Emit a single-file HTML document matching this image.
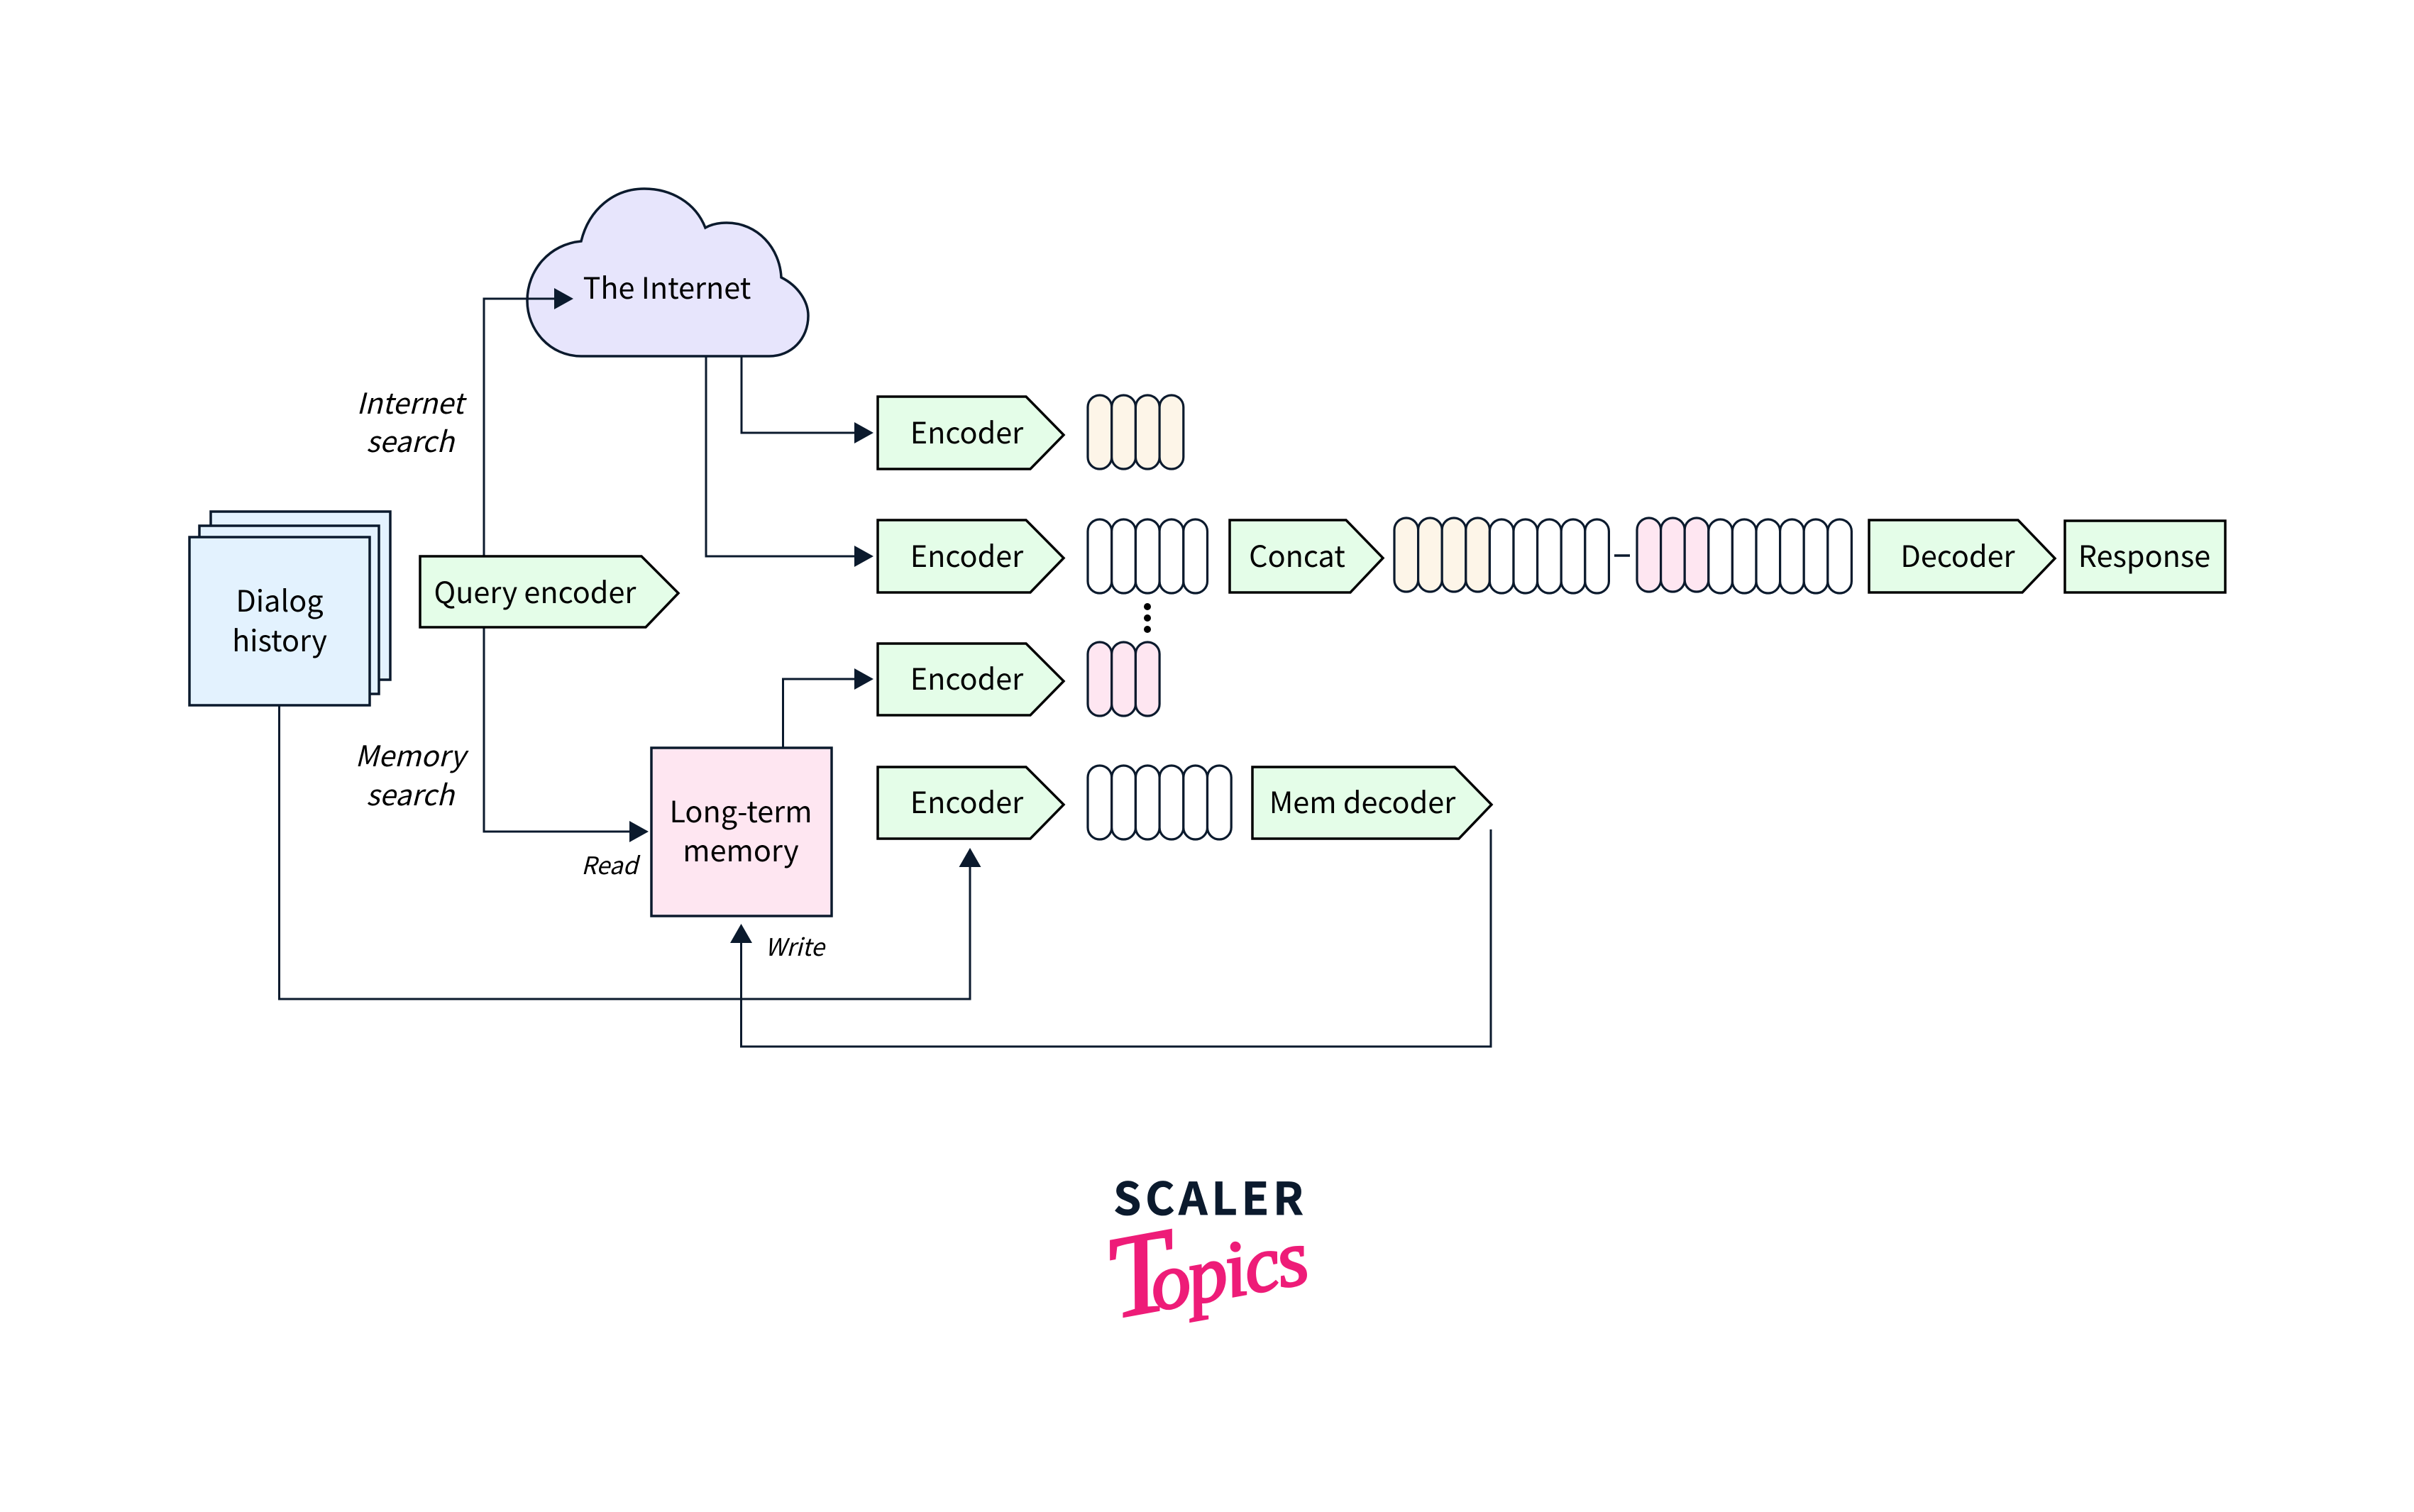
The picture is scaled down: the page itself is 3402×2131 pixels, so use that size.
<!DOCTYPE html>
<html><head><meta charset="utf-8"><style>
html,body{margin:0;padding:0;background:#fff;width:3402px;height:2131px;overflow:hidden}
svg{display:block}
text{font-family:"Noto Sans CJK JP","Liberation Sans",sans-serif;font-size:41.4px;fill:#000;text-anchor:middle}
.i{font-style:italic;font-size:40.5px}
.s{font-size:34px;font-style:italic}
.b{stroke:#000;stroke-width:3.5;fill:#e4fde8}
.l{fill:none;stroke:#0b1a2d;stroke-width:3}
.a{fill:#0b1a2d;stroke:none}
.n{stroke:#0b1a2d;stroke-width:3.5}
.p rect{stroke:#0b1a2d;stroke-width:3.2;fill:#fff}
.c rect{fill:#fdf5e8}
.k rect{fill:#fee6f1}
</style></head><body>
<svg width="3402" height="2131" viewBox="0 0 3402 2131" xmlns="http://www.w3.org/2000/svg">
<rect width="3402" height="2131" fill="#fff"/>

<!-- dialog stack -->
<rect class="n" x="297" y="721" width="253" height="237" fill="#e3f2fe"/>
<rect class="n" x="281" y="741" width="253" height="237" fill="#e3f2fe"/>
<rect class="n" x="267" y="757" width="254" height="237" fill="#e3f2fe"/>

<!-- cloud -->
<path class="n" fill="#e7e5fc" d="M819 502C775 502 743 465 743 424C743 380 775 344 819 340C830 295 865 266 908 266C945 266 980 285 994 321C1003 316 1014 314 1024 314C1068 314 1099 350 1101 391C1125 403 1139 425 1139 445C1139 478 1115 502 1084 502Z"/>

<!-- connectors -->
<path class="l" d="M682 784V421H785"/>
<path class="a" d="M781 406L808 421L781 436Z"/>
<path class="l" d="M995 502V784H1208"/>
<path class="a" d="M1204 769L1231 784L1204 799Z"/>
<path class="l" d="M1045 502V610H1208"/>
<path class="a" d="M1204 595L1231 610L1204 625Z"/>
<path class="l" d="M1103.5 1053V957H1208"/>
<path class="a" d="M1204 942L1231 957L1204 972Z"/>
<path class="l" d="M682 884V1172H890"/>
<path class="a" d="M887 1157L914 1172L887 1187Z"/>
<path class="l" d="M393.5 994V1408H1367V1218"/>
<path class="a" d="M1367 1195L1382.5 1222L1351.5 1222Z"/>
<path class="l" d="M2101 1169V1475H1044.5V1325"/>
<path class="a" d="M1044.5 1302L1060 1329L1029 1329Z"/>

<!-- long-term memory -->
<rect class="n" x="918" y="1054" width="254" height="237" fill="#fee6f1"/>

<!-- boxes -->
<path class="b" d="M592 784H904L956 836L910 884H592Z"/>
<path class="b" d="M1237 559H1446L1499 613L1452 661H1237Z"/>
<path class="b" d="M1237 733H1446L1499 786.5L1452 835H1237Z"/>
<path class="b" d="M1237 907H1446L1499 960L1452 1008H1237Z"/>
<path class="b" d="M1237 1081H1446L1499 1134L1452 1182H1237Z"/>
<path class="b" d="M1733 733H1897L1949 786.5L1903 835H1733Z"/>
<path class="b" d="M1765 1081H2050L2102 1134L2056 1182H1765Z"/>
<path class="b" d="M2634 733H2844L2896 787L2850 835H2634Z"/>
<rect class="b" x="2910" y="734" width="226" height="101"/>

<!-- pill rows -->
<g class="p c">
<rect x="1533" y="557" width="33.7" height="104" rx="16.8"/><rect x="1566.7" y="557" width="33.7" height="104" rx="16.8"/><rect x="1600.4" y="557" width="33.7" height="104" rx="16.8"/><rect x="1634.1" y="557" width="33.7" height="104" rx="16.8"/>
</g>
<g class="p">
<rect x="1533" y="732" width="33.7" height="104" rx="16.8"/><rect x="1566.7" y="732" width="33.7" height="104" rx="16.8"/><rect x="1600.4" y="732" width="33.7" height="104" rx="16.8"/><rect x="1634.1" y="732" width="33.7" height="104" rx="16.8"/><rect x="1667.8" y="732" width="33.7" height="104" rx="16.8"/>
</g>
<g class="p k">
<rect x="1533" y="905" width="33.7" height="104" rx="16.8"/><rect x="1566.7" y="905" width="33.7" height="104" rx="16.8"/><rect x="1600.4" y="905" width="33.7" height="104" rx="16.8"/>
</g>
<g class="p">
<rect x="1533" y="1079" width="33.7" height="104" rx="16.8"/><rect x="1566.7" y="1079" width="33.7" height="104" rx="16.8"/><rect x="1600.4" y="1079" width="33.7" height="104" rx="16.8"/><rect x="1634.1" y="1079" width="33.7" height="104" rx="16.8"/><rect x="1667.8" y="1079" width="33.7" height="104" rx="16.8"/><rect x="1701.5" y="1079" width="33.7" height="104" rx="16.8"/>
</g>
<g class="p c">
<rect x="1965" y="730" width="33.6" height="104" rx="16.8"/><rect x="1998.6" y="730" width="33.6" height="104" rx="16.8"/><rect x="2032.2" y="730" width="33.6" height="104" rx="16.8"/><rect x="2065.8" y="730" width="33.6" height="104" rx="16.8"/>
</g>
<g class="p">
<rect x="2099.4" y="732" width="33.6" height="104" rx="16.8"/><rect x="2133" y="732" width="33.6" height="104" rx="16.8"/><rect x="2166.6" y="732" width="33.6" height="104" rx="16.8"/><rect x="2200.2" y="732" width="33.6" height="104" rx="16.8"/><rect x="2233.8" y="732" width="33.6" height="104" rx="16.8"/>
</g>
<g class="p k">
<rect x="2307" y="730" width="33.6" height="104" rx="16.8"/><rect x="2340.6" y="730" width="33.6" height="104" rx="16.8"/><rect x="2374.2" y="730" width="33.6" height="104" rx="16.8"/>
</g>
<g class="p">
<rect x="2407.8" y="732" width="33.6" height="104" rx="16.8"/><rect x="2441.4" y="732" width="33.6" height="104" rx="16.8"/><rect x="2475" y="732" width="33.6" height="104" rx="16.8"/><rect x="2508.6" y="732" width="33.6" height="104" rx="16.8"/><rect x="2542.2" y="732" width="33.6" height="104" rx="16.8"/><rect x="2575.8" y="732" width="33.6" height="104" rx="16.8"/>
</g>

<path d="M2275 783H2297" stroke="#0b1a2d" stroke-width="3.5"/>
<circle cx="1617" cy="855" r="5"/><circle cx="1617" cy="871" r="5"/><circle cx="1617" cy="887" r="5"/>

<!-- labels -->
<text x="394" y="862">Dialog</text>
<text x="394" y="918">history</text>
<text x="940" y="421">The Internet</text>
<text x="754" y="850">Query encoder</text>
<text x="1362.5" y="625">Encoder</text>
<text x="1362.5" y="799">Encoder</text>
<text x="1362.5" y="972">Encoder</text>
<text x="1362.5" y="1146">Encoder</text>
<text x="1828" y="799">Concat</text>
<text x="1920" y="1146">Mem decoder</text>
<text x="2759" y="799">Decoder</text>
<text x="3022" y="799">Response</text>
<text x="1044" y="1159">Long-term</text>
<text x="1044" y="1214">memory</text>
<text class="i" x="578" y="583">Internet</text>
<text class="i" x="578" y="637">search</text>
<text class="i" x="578" y="1080">Memory</text>
<text class="i" x="578" y="1135">search</text>
<text class="s" x="859" y="1232">Read</text>
<text class="s" x="1120" y="1347">Write</text>

<!-- logo -->
<text x="1703" y="1712" style="font-size:63px;font-weight:700;fill:#0b1a2d;stroke:#0b1a2d;stroke-width:.8" textLength="268" lengthAdjust="spacing">SCALER</text>
<text transform="translate(1570 1858) rotate(-10.4)" style="font-family:'Liberation Serif',serif;font-style:italic;font-size:112px;letter-spacing:-3px;fill:#ee1c78;stroke:#ee1c78;stroke-width:3;text-anchor:start"><tspan style="font-size:165px">T</tspan><tspan dx="-30">opics</tspan></text>
</svg>
</body></html>
